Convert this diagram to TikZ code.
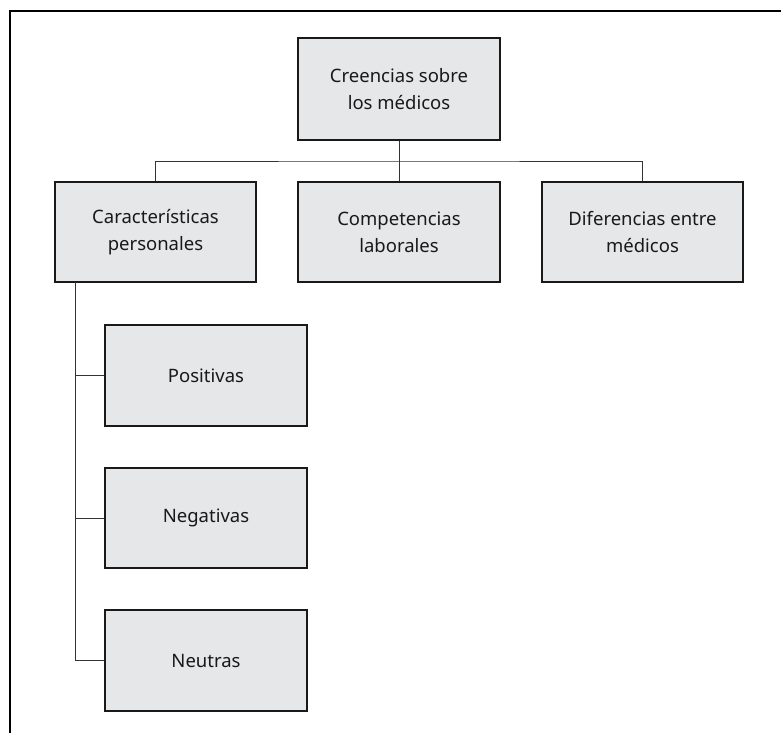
\documentclass[tikz,border=0pt]{standalone}
\usepackage{fontspec}
\setmainfont{Noto Sans}
\definecolor{boxfill}{HTML}{E6E7E8}
\definecolor{linegray}{HTML}{333333}
\begin{document}
\begin{tikzpicture}[x=1pt,y=-1pt,
  box/.style={draw=black!90, line width=1.15pt, fill=boxfill, align=center,
    inner sep=0pt, font=\fontsize{18.5}{27}\selectfont, text=black!90},
  conn/.style={draw=linegray, line width=1pt}]
\useasboundingbox (0,0) rectangle (781,733);
% frame
\draw[line width=1.2pt] (10,733) -- (10,11) -- (781,11);
% nodes
\node[box, minimum width=202pt, minimum height=102pt] (top) at (399,89) {Creencias sobre\\los médicos};
\node[box, minimum width=201pt, minimum height=100pt] (cp) at (155.5,232) {Características\\personales};
\node[box, minimum width=202pt, minimum height=100pt] (cl) at (399,232) {Competencias\\laborales};
\node[box, minimum width=201pt, minimum height=100pt] (dm) at (642.5,232) {Diferencias entre\\médicos};
\node[box, minimum width=202pt, minimum height=101pt] (pos) at (206,375.5) {Positivas};
\node[box, minimum width=202pt, minimum height=100pt] (neg) at (206,518) {Negativas};
\node[box, minimum width=202pt, minimum height=101pt] (neu) at (206,660.5) {Neutras};
% connectors
\coordinate (bus) at (399,161);
\draw[conn] (top.south) -- (cl.north);
\draw[conn] (cp.north) |- (bus) -| (dm.north);
\coordinate (trunk) at (75,282);
\draw[conn] (trunk) |- (neu.west);
\draw[conn] (trunk |- pos.west) -- (pos.west);
\draw[conn] (trunk |- neg.west) -- (neg.west);
\end{tikzpicture}
\end{document}
